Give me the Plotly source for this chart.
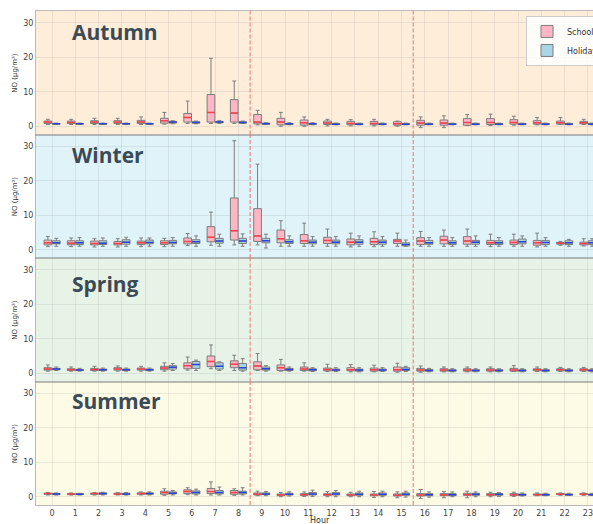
import plotly.graph_objects as go
from plotly.subplots import make_subplots

hours = list(range(24))
hour_labels = [str(h) for h in hours]
season_names = ["Autumn", "Winter", "Spring", "Summer"]
group_names = ["School", "Holiday"]
y_ticks = [0, 10, 20, 30]

# ---------------- Autumn ----------------
autumn_school_lo = [0.5,0.5,0.5,0.5,0.5,0.6,0.8,0.8,0.8,0.4,0.0,0.0,0.1,0.1,0.1,0.0,-0.4,-0.4,0.2,0.2,0.3,0.4,0.5,0.5]
autumn_school_q1 = [0.8,0.8,0.8,0.8,0.8,0.9,1.2,1.2,1.2,0.7,0.4,0.3,0.5,0.4,0.4,0.3,0.3,0.3,0.3,0.5,0.6,0.6,0.6,0.7]
autumn_school_med = [1.2,1.1,1.2,1.2,1.2,1.6,2.5,4.0,3.8,1.2,1.2,1.0,0.9,0.8,0.8,0.7,0.9,0.9,1.1,1.1,1.1,1.0,1.0,1.0]
autumn_school_q3 = [1.5,1.5,1.6,1.6,1.7,2.3,3.7,9.2,7.7,3.4,2.3,1.8,1.5,1.4,1.4,1.3,1.7,1.8,2.2,2.2,1.9,1.6,1.5,1.4]
autumn_school_hi = [2.0,2.0,2.3,2.3,2.7,4.0,7.3,19.7,13.1,4.6,4.0,2.7,2.0,1.9,2.0,1.5,2.7,3.0,3.4,3.5,2.9,2.5,2.5,2.0]

autumn_holiday_lo = [0.5,0.5,0.5,0.5,0.5,0.7,0.7,0.8,0.8,0.5,0.4,0.4,0.4,0.4,0.4,0.4,0.4,0.4,0.4,0.4,0.4,0.4,0.4,0.4]
autumn_holiday_q1 = [0.6,0.6,0.6,0.6,0.6,0.9,0.9,1.0,0.9,0.6,0.5,0.5,0.5,0.5,0.5,0.5,0.5,0.5,0.5,0.5,0.5,0.5,0.5,0.5]
autumn_holiday_med = [0.7,0.7,0.7,0.7,0.7,1.2,1.1,1.2,1.1,0.7,0.7,0.7,0.6,0.6,0.6,0.6,0.6,0.6,0.6,0.6,0.6,0.6,0.6,0.6]
autumn_holiday_q3 = [0.8,0.8,0.8,0.8,0.8,1.4,1.3,1.4,1.3,0.9,0.8,0.8,0.8,0.8,0.8,0.8,0.8,0.8,0.8,0.8,0.8,0.8,0.8,0.8]
autumn_holiday_hi = [0.9,0.9,0.9,0.9,0.9,1.6,1.5,1.6,1.5,1.0,1.0,1.0,0.9,0.9,0.9,0.9,0.9,0.9,0.9,0.9,0.9,0.9,0.9,0.9]

# ---------------- Winter ----------------
winter_school_lo = [0.9,0.9,0.8,0.8,0.9,0.9,1.2,1.3,1.4,1.4,1.0,1.0,1.0,0.8,0.9,1.0,1.0,1.0,1.0,0.9,1.0,0.8,1.3,1.1]
winter_school_q1 = [1.4,1.4,1.4,1.4,1.5,1.5,1.7,2.3,2.8,2.4,2.0,1.8,1.8,1.4,1.5,1.8,1.5,1.7,1.6,1.5,1.5,1.3,1.6,1.4]
winter_school_med = [2.0,1.9,1.8,1.8,2.0,2.0,2.4,3.6,5.5,4.0,3.2,2.6,2.7,2.2,2.3,2.5,2.5,2.8,2.5,2.0,2.1,2.0,1.9,1.8]
winter_school_q3 = [2.8,2.6,2.5,2.4,2.5,2.6,3.4,6.7,15.0,11.9,5.7,4.4,3.6,3.1,3.3,3.0,3.5,3.9,3.8,2.7,2.8,2.7,2.1,2.2]
winter_school_hi = [3.8,3.4,3.2,3.2,3.4,3.3,4.7,10.9,31.6,24.8,8.4,7.7,6.0,4.8,5.2,4.8,5.3,5.7,6.0,4.5,4.5,4.8,2.4,3.2]

winter_holiday_lo = [1.0,1.0,1.0,1.0,1.0,1.0,1.0,1.0,1.0,0.5,1.0,1.0,1.0,1.0,1.0,1.0,1.0,1.0,1.0,1.0,1.0,1.0,1.0,1.0]
winter_holiday_q1 = [1.7,1.5,1.5,1.6,1.7,1.7,1.8,1.9,1.8,2.0,1.8,1.7,1.7,1.6,1.6,1.1,1.6,1.5,1.6,1.5,1.7,1.5,1.5,1.5]
winter_holiday_med = [2.0,2.0,1.9,2.2,2.1,2.1,2.3,2.5,2.5,2.6,2.3,2.2,2.2,2.2,2.2,1.5,2.0,2.0,2.2,2.0,2.3,2.1,2.0,2.0]
winter_holiday_q3 = [2.6,2.6,2.6,2.9,2.8,2.7,2.9,3.3,3.3,3.3,2.9,2.8,2.8,2.9,2.8,2.0,2.7,2.6,2.7,2.6,3.1,2.7,2.6,2.6]
winter_holiday_hi = [3.3,3.5,3.4,3.6,3.4,3.5,4.0,4.5,4.6,4.5,4.0,3.8,3.8,4.0,3.8,2.8,3.5,3.5,4.0,3.5,4.0,3.5,3.0,3.2]

# ---------------- Spring ----------------
spring_school_lo = [0.6,0.6,0.6,0.6,0.6,0.6,0.9,1.3,0.8,0.8,0.6,0.6,0.5,0.4,0.4,0.3,0.3,0.4,0.4,0.4,0.5,0.5,0.5,0.5]
spring_school_q1 = [0.9,0.8,0.8,0.9,0.9,1.0,1.3,1.9,1.6,1.0,0.8,0.8,0.7,0.7,0.6,0.6,0.6,0.6,0.6,0.6,0.6,0.7,0.7,0.7]
spring_school_med = [1.2,1.0,1.1,1.2,1.2,1.5,2.2,3.4,2.6,2.1,1.6,1.2,1.1,1.0,1.0,1.0,0.9,0.9,0.9,0.9,0.9,1.0,1.0,1.0]
spring_school_q3 = [1.6,1.3,1.4,1.6,1.5,2.0,3.0,5.0,3.6,3.3,2.4,1.8,1.5,1.6,1.5,1.8,1.4,1.3,1.3,1.3,1.4,1.3,1.3,1.3]
spring_school_hi = [2.4,1.8,2.0,2.1,2.0,3.0,4.7,8.2,5.2,5.7,4.0,3.0,2.6,2.5,2.3,2.9,2.1,1.8,1.8,1.8,2.2,1.8,1.7,1.7]

spring_holiday_lo = [0.8,0.6,0.6,0.6,0.6,0.8,0.8,0.8,0.6,0.6,0.6,0.5,0.5,0.4,0.5,0.5,0.4,0.4,0.4,0.4,0.4,0.4,0.4,0.4]
spring_holiday_q1 = [1.0,0.8,0.8,0.8,0.8,1.2,1.4,1.2,0.9,0.9,0.8,0.7,0.7,0.6,0.7,0.8,0.6,0.6,0.6,0.6,0.6,0.6,0.6,0.6]
spring_holiday_med = [1.2,0.9,1.0,1.0,1.0,1.7,2.5,2.0,1.6,1.3,1.1,1.0,0.9,0.9,0.9,1.1,0.8,0.8,0.8,0.8,0.8,0.8,0.8,0.8]
spring_holiday_q3 = [1.4,1.1,1.2,1.2,1.2,2.2,3.4,3.0,2.8,1.8,1.4,1.3,1.2,1.2,1.2,1.6,1.1,1.0,1.0,1.0,1.0,1.0,1.0,1.0]
spring_holiday_hi = [1.8,1.4,1.5,1.5,1.5,2.8,3.8,3.3,4.2,2.2,1.8,1.6,1.6,1.6,1.6,2.0,1.4,1.3,1.3,1.3,1.3,1.3,1.3,1.3]

# ---------------- Summer ----------------
summer_school_lo = [0.5,0.5,0.5,0.5,0.5,0.4,0.6,0.5,0.4,0.3,0.0,0.1,0.0,0.0,-0.2,-0.3,-0.5,-0.3,-0.3,0.0,0.1,0.3,0.4,0.4]
summer_school_q1 = [0.7,0.6,0.7,0.7,0.7,0.7,0.9,0.9,0.7,0.5,0.3,0.4,0.4,0.3,0.3,0.2,0.2,0.3,0.4,0.4,0.4,0.5,0.6,0.6]
summer_school_med = [0.9,0.8,0.9,0.8,0.9,1.2,1.5,1.5,1.2,0.7,0.5,0.6,0.6,0.5,0.5,0.4,0.5,0.5,0.6,0.6,0.6,0.6,0.7,0.7]
summer_school_q3 = [1.0,0.9,1.0,1.0,1.1,1.6,2.0,2.4,1.8,1.1,0.8,0.9,0.9,0.8,0.8,0.8,0.9,0.9,1.0,0.9,0.9,0.8,0.9,0.9]
summer_school_hi = [1.2,1.1,1.2,1.2,1.4,2.3,2.6,4.3,2.3,1.6,1.2,1.4,1.5,1.3,1.5,1.4,2.1,1.5,1.6,1.3,1.3,1.1,1.1,1.1]

summer_holiday_lo = [0.5,0.5,0.5,0.5,0.5,0.5,0.5,0.5,0.5,0.3,0.2,0.1,0.0,0.0,0.0,-0.1,-0.1,0.0,0.0,0.1,0.2,0.3,0.4,0.4]
summer_holiday_q1 = [0.6,0.6,0.7,0.6,0.7,0.8,0.8,0.8,0.8,0.6,0.5,0.5,0.5,0.4,0.4,0.4,0.3,0.3,0.4,0.4,0.4,0.4,0.5,0.5]
summer_holiday_med = [0.8,0.7,0.9,0.8,0.9,1.0,1.2,1.2,1.2,0.8,0.7,0.8,0.8,0.7,0.7,0.7,0.6,0.6,0.7,0.7,0.6,0.6,0.6,0.6]
summer_holiday_q3 = [0.9,0.9,1.1,1.0,1.1,1.4,1.7,1.8,1.6,1.1,1.0,1.2,1.2,1.1,1.1,1.1,0.9,0.9,1.0,0.9,0.8,0.8,0.8,0.8]
summer_holiday_hi = [1.1,1.0,1.3,1.2,1.4,1.8,2.2,2.8,2.6,1.5,1.4,1.9,1.8,1.6,1.6,1.6,1.4,1.4,1.4,1.2,1.1,1.0,1.0,1.0]

school_periods = [8.5, 15.5]

# ---------------- styling ----------------
season_bg = ["#fdedd9", "#dff3f9", "#e7f3e6", "#fdfbe6"]
season_label_y = [0.83, 0.835, 0.79, 0.845]
group_fill = {"School": "#ffb6c4", "Holiday": "#a9d6e5"}
group_median = {"School": "#f0454f", "Holiday": "#2b45d0"}
group_offset = {"School": -0.18, "Holiday": 0.18}
BOX_W = 0.33

data = {
    "Autumn": {
        "School": (autumn_school_lo, autumn_school_q1, autumn_school_med, autumn_school_q3, autumn_school_hi),
        "Holiday": (autumn_holiday_lo, autumn_holiday_q1, autumn_holiday_med, autumn_holiday_q3, autumn_holiday_hi),
    },
    "Winter": {
        "School": (winter_school_lo, winter_school_q1, winter_school_med, winter_school_q3, winter_school_hi),
        "Holiday": (winter_holiday_lo, winter_holiday_q1, winter_holiday_med, winter_holiday_q3, winter_holiday_hi),
    },
    "Spring": {
        "School": (spring_school_lo, spring_school_q1, spring_school_med, spring_school_q3, spring_school_hi),
        "Holiday": (spring_holiday_lo, spring_holiday_q1, spring_holiday_med, spring_holiday_q3, spring_holiday_hi),
    },
    "Summer": {
        "School": (summer_school_lo, summer_school_q1, summer_school_med, summer_school_q3, summer_school_hi),
        "Holiday": (summer_holiday_lo, summer_holiday_q1, summer_holiday_med, summer_holiday_q3, summer_holiday_hi),
    },
}

fig = make_subplots(rows=4, cols=1, shared_xaxes=True, vertical_spacing=0)

for i, season in enumerate(season_names):
    row = i + 1
    for g in group_names:
        lo, q1, med, q3, hi = data[season][g]
        xs = [h + group_offset[g] for h in hours]
        fig.add_trace(go.Box(
            x=xs, q1=q1, median=med, q3=q3, lowerfence=lo, upperfence=hi,
            width=BOX_W, whiskerwidth=0.5, boxpoints=False,
            fillcolor=group_fill[g], line=dict(color="#7d7d7d", width=1),
            name=g, legendgroup=g, showlegend=(i == 0), hoverinfo="skip",
        ), row=row, col=1)
        mx, my = [], []
        for x, m in zip(xs, med):
            mx += [x - BOX_W / 2, x + BOX_W / 2, None]
            my += [m, m, None]
        fig.add_trace(go.Scatter(
            x=mx, y=my, mode="lines", line=dict(color=group_median[g], width=1.5),
            showlegend=False, hoverinfo="skip",
        ), row=row, col=1)

    suffix = "" if row == 1 else str(row)
    fig.add_shape(type="rect", xref=f"x{suffix} domain", yref=f"y{suffix} domain",
                  x0=0, x1=1, y0=0, y1=1, fillcolor=season_bg[i], line_width=0, layer="below")
    for xv in school_periods:
        fig.add_shape(type="line", xref=f"x{suffix}", yref=f"y{suffix} domain",
                      x0=xv, x1=xv, y0=0, y1=1,
                      line=dict(color="#f07070", width=1, dash="4px,2px"), layer="above")
    fig.add_annotation(text=f"<b>{season}</b>", xref="paper", yref=f"y{suffix} domain",
                       x=0.0598, y=season_label_y[i], xanchor="left", yanchor="middle",
                       showarrow=False, font=dict(family="Open Sans", size=21, color="#3b4a55"))
    fig.add_annotation(text="NO (µg/m³)", xref="paper", yref=f"y{suffix} domain",
                       x=-0.037, y=0.5, xanchor="center", yanchor="middle", textangle=-90,
                       showarrow=False, font=dict(family="DejaVu Sans", size=7, color="#333333"))

fig.update_xaxes(range=[-0.69, 23.69], tickmode="array", tickvals=hours, ticktext=hour_labels,
                 showgrid=True, gridcolor="rgba(150,150,150,0.18)", gridwidth=1,
                 showline=True, mirror=True, linecolor="rgba(140,140,140,0.6)", linewidth=1,
                 zeroline=False, tickfont=dict(family="DejaVu Sans", size=8, color="#444444"))
fig.update_yaxes(range=[-2.4, 33.4], tickvals=y_ticks, showgrid=True,
                 gridcolor="rgba(150,150,150,0.18)", gridwidth=1, zeroline=False,
                 showline=True, mirror=True, linecolor="rgba(140,140,140,0.6)", linewidth=1,
                 tickfont=dict(family="DejaVu Sans", size=8, color="#444444"))

fig.add_annotation(text="Hour", xref="paper", yref="paper", x=0.5, y=-0.032,
                   xanchor="center", yanchor="middle", showarrow=False,
                   font=dict(family="DejaVu Sans", size=8, color="#333333"))

fig.update_layout(
    width=610, height=524,
    margin=dict(l=36, r=6, t=11, b=19),
    paper_bgcolor="white", plot_bgcolor="white",
    boxmode="overlay",
    legend=dict(x=1.0, y=0.99, xanchor="right", yanchor="top",
                bgcolor="rgba(255,255,255,0.85)", bordercolor="#cccccc", borderwidth=1,
                font=dict(family="DejaVu Sans", size=8, color="#333333"),
                tracegroupgap=0, itemwidth=30),
)

fig.write_html(
    "out.html",
    config={"responsive": False, "displayModeBar": False},
    post_script="document.body.style.margin='0';document.body.style.overflow='hidden';",
)
